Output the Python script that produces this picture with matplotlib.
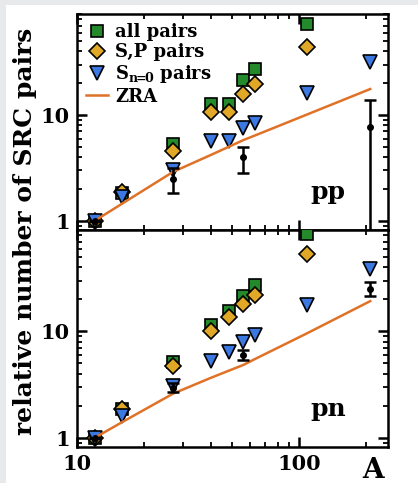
import numpy as np
import matplotlib
matplotlib.use("Agg")
import matplotlib.pyplot as plt
from matplotlib.patches import Rectangle
from matplotlib.ticker import LogLocator, NullFormatter, FixedLocator, FixedFormatter


# =====================================================
# Data
# =====================================================
A = [12, 16, 27, 40, 48, 56, 63, 108, 208]

pp_all = [1.0, 1.85, 5.3, 12.7, 12.7, 21.4, 27.0, 72.0, np.nan]
pp_sp = [1.0, 1.87, 4.6, 10.7, 10.7, 15.8, 19.6, 44.0, np.nan]
pp_s0 = [1.0, 1.68, 3.0, 5.7, 5.7, 7.5, 8.4, 16.1, 31.6]
pp_zra = [1.0, 1.46, 2.9, 4.2, 5.0, 5.8, 6.4, 10.1, 17.6]

pn_all = [1.0, 1.85, 5.2, 11.4, 15.5, 21.5, 27.3, 82.0, np.nan]
pn_sp = [1.0, 1.85, 4.7, 10.2, 13.6, 18.1, 22.0, 54.0, np.nan]
pn_s0 = [1.0, 1.62, 3.06, 5.3, 6.45, 8.0, 9.2, 17.7, 39.0]
pn_zra = [1.0, 1.41, 2.6, 3.67, 4.27, 4.85, 5.5, 9.6, 19.3]

# measured ratios with error bars
A_exp = [12, 27, 56, 208]
pp_exp = [1.0, 2.49, 4.0, 7.7]
pp_lo = [1.0, 1.84, 2.84, 0.5]
pp_hi = [1.0, 3.16, 5.0, 13.8]
pn_exp = [1.0, 2.93, 6.0, 25.0]
pn_lo = [1.0, 2.68, 5.4, 21.5]
pn_hi = [1.0, 3.27, 6.7, 29.3]

GREEN = "#23892a"
GOLD = "#e0a826"
BLUE = "#3b78e2"
ORANGE = "#e07228"

plt.rcParams["font.family"] = "DejaVu Serif"
plt.rcParams["font.weight"] = "bold"
plt.rcParams["mathtext.fontset"] = "dejavuserif"


# =====================================================
# One panel
# =====================================================
def draw_panel(ax, all_p, sp_p, s0_p, zra, exp, lo, hi, tag):
    ax.plot(A, all_p, "s", ms=9, color=GREEN, mec="black", mew=1.2,
            label="all pairs", zorder=3)
    ax.plot(A, sp_p, "D", ms=8.5, color=GOLD, mec="black", mew=1.2,
            label="S,P pairs", zorder=4)
    ax.plot(A, s0_p, "v", ms=10, color=BLUE, mec="black", mew=1.2,
            label=r"S$_{\mathbf{n\!\!=\!\!0}}$ pairs", zorder=5)
    ax.plot(A, zra, "-", color=ORANGE, lw=1.8, label="ZRA", zorder=6)

    exp = np.array(exp)
    err = [exp - np.array(lo), np.array(hi) - exp]
    ax.errorbar(A_exp, exp, yerr=err, fmt="o", ms=4, color="black",
                ecolor="black", elinewidth=1.8, capsize=4, capthick=1.8,
                zorder=7)

    ax.set_xscale("log")
    ax.set_yscale("log")
    ax.set_xlim(10, 250)
    ax.set_ylim(0.82, 90)

    ax.yaxis.set_major_locator(FixedLocator([1, 10]))
    ax.yaxis.set_major_formatter(FixedFormatter(["1", "10"]))
    ax.yaxis.set_minor_locator(LogLocator(base=10, subs=np.arange(2, 10)))
    ax.yaxis.set_minor_formatter(NullFormatter())
    ax.xaxis.set_major_locator(FixedLocator([10, 100]))
    ax.xaxis.set_major_formatter(FixedFormatter(["10", "100"]))
    ax.xaxis.set_minor_locator(LogLocator(base=10, subs=np.arange(2, 10)))
    ax.xaxis.set_minor_formatter(NullFormatter())

    ax.tick_params(which="both", direction="in", top=True, right=True)
    ax.tick_params(which="major", length=7, width=1.8, labelsize=15, pad=5)
    ax.tick_params(which="minor", length=3.5, width=1.3)
    for s in ax.spines.values():
        s.set_linewidth(1.8)

    ax.text(0.807, 0.176, tag, transform=ax.transAxes, fontsize=18,
            fontweight="bold", ha="center", va="center")


# =====================================================
# Main Program
# =====================================================
def main():
    fig = plt.figure(figsize=(4.18, 4.83), dpi=100)
    fig.patch.set_facecolor("#e8e9eb")
    fig.patches.append(Rectangle((6 / 418, 0), 1 - 6 / 418, 1 - 5 / 483,
                                 transform=fig.transFigure,
                                 facecolor="white", edgecolor="none",
                                 zorder=-5))

    left, right = 77 / 418, 388 / 418
    top, mid, bottom = 1 - 14 / 483, 1 - 230 / 483, 1 - 447 / 483
    ax1 = fig.add_axes([left, mid, right - left, top - mid])
    ax2 = fig.add_axes([left, bottom, right - left, mid - bottom], sharex=ax1)

    draw_panel(ax1, pp_all, pp_sp, pp_s0, pp_zra, pp_exp, pp_lo, pp_hi, "pp")
    draw_panel(ax2, pn_all, pn_sp, pn_s0, pn_zra, pn_exp, pn_lo, pn_hi, "pn")
    ax1.tick_params(labelbottom=False)

    ax1.legend(loc="upper left", frameon=False, fontsize=13, numpoints=1,
               handlelength=1.2, handletextpad=0.4, labelspacing=0.12,
               borderaxespad=0.2, borderpad=0.3)

    fig.text(25 / 418, 1 - 231 / 483, "relative number of SRC pairs",
             rotation=90, fontsize=18, fontweight="bold",
             ha="center", va="center")
    fig.text(373 / 418, 1 - 470 / 483, "A", fontsize=20, fontweight="bold",
             ha="center", va="center")

    fig.savefig("out.png", dpi=100, facecolor=fig.get_facecolor())
    plt.close(fig)


if __name__ == "__main__":
    main()
